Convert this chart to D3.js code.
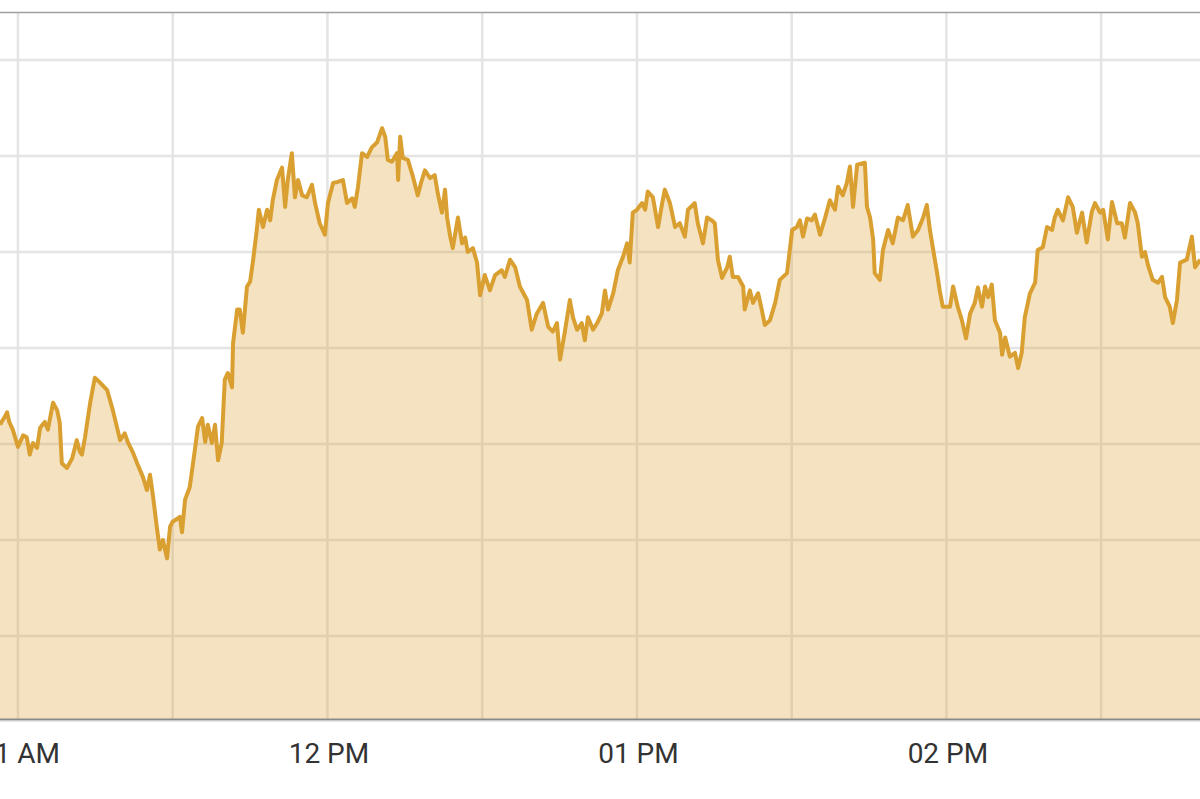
<!DOCTYPE html>
<html>
<head>
<meta charset="utf-8">
<script src="https://cdn.jsdelivr.net/npm/d3@7"></script>
<style>
  html, body { margin: 0; padding: 0; background: #fff; overflow: hidden; }
  svg { display: block; }
</style>
</head>
<body>
<div id="chart"></div>
<script>
// minutes after 11:00 for each reading, and the price at that moment
const minutes = [
  -3.5, -2.7, -2.1, -1.7, -1.0, 0.0, 1.0, 1.7, 2.3, 2.9, 3.7, 4.3, 5.2, 5.8, 6.8, 7.6, 8.1, 8.5, 9.5, 10.5,
  11.4, 12.0, 12.4, 13.0, 14.0, 14.9, 15.9, 17.3, 18.4, 19.8, 20.7, 21.3, 22.3, 23.1, 24.2, 25.0, 25.6, 26.2, 26.9, 27.5,
  28.1, 28.9, 29.5, 30.0, 31.4, 31.8, 32.4, 33.3, 34.3, 34.9, 35.7, 36.3, 36.8, 37.6, 38.2, 38.8, 39.5, 40.1, 40.7, 41.5,
  41.7, 42.5, 43.0, 43.6, 44.4, 45.0, 45.6, 46.3, 46.7, 47.5, 48.3, 48.9, 49.4, 50.2, 51.2, 51.8, 52.3, 53.1, 53.7, 54.3,
  55.1, 56.0, 57.0, 57.6, 58.5, 59.5, 60.1, 61.1, 62.0, 63.0, 63.8, 64.8, 65.3, 65.9, 66.7, 67.7, 68.6, 69.6, 70.6, 71.2,
  71.7, 72.5, 73.5, 73.7, 74.1, 74.6, 75.6, 76.6, 77.5, 78.3, 78.9, 79.9, 80.8, 81.4, 82.2, 82.8, 83.2, 83.8, 84.3, 85.3,
  86.1, 86.7, 87.2, 88.2, 89.0, 89.6, 90.5, 91.5, 92.5, 93.8, 94.4, 95.4, 96.4, 97.3, 98.7, 99.6, 100.6, 101.8, 102.8, 103.7,
  104.5, 105.1, 106.0, 107.0, 107.6, 108.4, 109.3, 109.9, 110.5, 111.5, 112.3, 113.2, 113.8, 114.4, 115.4, 116.3, 117.3, 118.1, 118.6, 119.2,
  120.0, 121.0, 121.6, 122.1, 123.1, 124.1, 124.9, 125.4, 126.4, 127.4, 128.3, 129.3, 129.9, 131.2, 131.8, 132.8, 133.6, 134.5, 135.1, 135.7,
  136.5, 137.5, 138.0, 138.6, 139.6, 140.6, 140.9, 141.9, 142.5, 143.5, 144.2, 144.8, 145.8, 146.8, 147.7, 149.1, 150.1, 151.0, 151.6, 152.2,
  153.0, 153.9, 154.5, 155.5, 156.5, 157.4, 158.4, 159.0, 159.9, 160.7, 161.3, 161.9, 162.7, 164.2, 164.6, 165.2, 165.8, 166.1, 167.1, 167.7,
  168.7, 169.6, 170.6, 171.6, 172.5, 173.5, 174.5, 175.5, 176.2, 176.8, 178.2, 178.7, 179.3, 180.7, 181.3, 182.2, 183.0, 183.8, 184.6, 185.5,
  186.1, 186.9, 187.5, 188.1, 188.8, 189.4, 190.4, 190.8, 191.4, 192.3, 193.3, 193.9, 194.6, 195.2, 196.2, 197.2, 197.7, 198.7, 199.5, 200.5,
  201.0, 201.6, 202.6, 203.6, 204.5, 205.3, 206.3, 207.2, 208.2, 208.8, 209.8, 210.4, 211.3, 212.1, 213.1, 214.0, 214.6, 215.6, 216.6, 217.1,
  217.9, 218.5, 219.1, 220.0, 221.0, 221.8, 222.4, 223.3, 223.9, 224.7, 225.3, 226.6, 227.6, 228.2, 229.2
];

const prices = [
  1286.20, 1286.27, 1286.33, 1286.23, 1286.15, 1285.97, 1286.09, 1286.07, 1285.89, 1286.01, 1285.96, 1286.17, 1286.23, 1286.15, 1286.43, 1286.35, 1286.22, 1285.80, 1285.75, 1285.85,
  1286.04, 1285.92, 1285.89, 1286.07, 1286.43, 1286.69, 1286.64, 1286.56, 1286.35, 1286.04, 1286.11, 1286.02, 1285.91, 1285.80, 1285.66, 1285.52, 1285.68, 1285.45, 1285.14, 1284.90,
  1285.00, 1284.81, 1285.14, 1285.19, 1285.24, 1285.08, 1285.42, 1285.55, 1285.94, 1286.18, 1286.27, 1286.02, 1286.20, 1286.01, 1286.20, 1285.83, 1286.01, 1286.67, 1286.74, 1286.59,
  1287.05, 1287.40, 1287.40, 1287.16, 1287.64, 1287.69, 1287.92, 1288.23, 1288.44, 1288.26, 1288.44, 1288.33, 1288.54, 1288.75, 1288.88, 1288.47, 1288.75, 1289.03, 1288.57, 1288.75,
  1288.59, 1288.57, 1288.70, 1288.51, 1288.30, 1288.18, 1288.51, 1288.72, 1288.73, 1288.75, 1288.51, 1288.56, 1288.47, 1288.67, 1289.03, 1288.99, 1289.09, 1289.14, 1289.29, 1289.20,
  1288.96, 1288.94, 1289.03, 1288.75, 1289.20, 1288.98, 1288.96, 1288.78, 1288.59, 1288.75, 1288.85, 1288.77, 1288.80, 1288.61, 1288.41, 1288.65, 1288.36, 1288.16, 1288.04, 1288.36,
  1288.09, 1288.15, 1288.00, 1288.04, 1287.89, 1287.55, 1287.76, 1287.60, 1287.76, 1287.81, 1287.74, 1287.92, 1287.84, 1287.64, 1287.50, 1287.19, 1287.36, 1287.47, 1287.22, 1287.17,
  1287.26, 1286.88, 1287.16, 1287.50, 1287.32, 1287.19, 1287.26, 1287.08, 1287.32, 1287.19, 1287.26, 1287.36, 1287.60, 1287.40, 1287.57, 1287.81, 1287.95, 1288.09, 1287.89, 1288.41,
  1288.44, 1288.51, 1288.44, 1288.63, 1288.57, 1288.26, 1288.51, 1288.65, 1288.51, 1288.26, 1288.30, 1288.16, 1288.44, 1288.51, 1288.30, 1288.09, 1288.36, 1288.33, 1288.30, 1287.92,
  1287.73, 1287.84, 1287.95, 1287.74, 1287.74, 1287.64, 1287.40, 1287.60, 1287.47, 1287.57, 1287.40, 1287.24, 1287.29, 1287.47, 1287.71, 1287.78, 1288.23, 1288.26, 1288.33, 1288.16,
  1288.35, 1288.33, 1288.39, 1288.18, 1288.36, 1288.54, 1288.44, 1288.68, 1288.59, 1288.72, 1288.89, 1288.47, 1288.91, 1288.93, 1288.47, 1288.36, 1288.13, 1287.78, 1287.71, 1288.02,
  1288.23, 1288.09, 1288.36, 1288.33, 1288.49, 1288.16, 1288.23, 1288.36, 1288.49, 1288.23, 1287.78, 1287.60, 1287.43, 1287.43, 1287.64, 1287.43, 1287.29, 1287.10, 1287.36, 1287.47,
  1287.63, 1287.43, 1287.64, 1287.53, 1287.66, 1287.29, 1287.16, 1286.93, 1287.11, 1286.91, 1286.95, 1286.79, 1286.95, 1287.32, 1287.57, 1287.68, 1288.02, 1288.05, 1288.26, 1288.23,
  1288.36, 1288.44, 1288.33, 1288.57, 1288.47, 1288.20, 1288.41, 1288.10, 1288.42, 1288.51, 1288.41, 1288.44, 1288.13, 1288.52, 1288.30, 1288.30, 1288.15, 1288.51, 1288.41, 1288.30,
  1287.95, 1288.00, 1287.86, 1287.71, 1287.68, 1287.74, 1287.53, 1287.43, 1287.26, 1287.50, 1287.89, 1287.92, 1288.16, 1287.84, 1287.92
];

const priceTicks = [1284, 1285, 1286, 1287, 1288, 1289, 1290];

const width = 1200;
const height = 799;
const plotTop = 13;
const plotBottom = 719;

const day = new Date(2019, 0, 15, 11, 0, 0);
const toTime = m => new Date(day.getTime() + m * 60000);

const data = minutes.map((m, i) => ({ t: toTime(m), v: prices[i] }));

let svg = d3.select("#chart").append("svg")
    .attr("width", width)
    .attr("height", height);

// visible window runs from 10:56:31 to 14:49:10
let x = d3.scaleTime()
    .domain([new Date(2019, 0, 15, 10, 56, 31), new Date(2019, 0, 15, 14, 49, 10)])
    .range([0, width]);

let y = d3.scaleLinear()
    .domain([1283.135, 1290.49])
    .range([plotBottom, plotTop]);

// grid
svg.append("g")
    .selectAll("line")
    .data(x.ticks(d3.timeMinute.every(30)))
    .join("line")
    .attr("x1", d => x(d))
    .attr("x2", d => x(d))
    .attr("y1", plotTop)
    .attr("y2", plotBottom)
    .attr("stroke", "#e4e4e4")
    .attr("stroke-width", 2.5);

svg.append("g")
    .selectAll("line")
    .data(priceTicks)
    .join("line")
    .attr("x1", 0)
    .attr("x2", width)
    .attr("y1", d => y(d))
    .attr("y2", d => y(d))
    .attr("stroke", "#e4e4e4")
    .attr("stroke-width", 2.5);

let area = d3.area()
    .x(d => x(d.t))
    .y0(plotBottom)
    .y1(d => y(d.v));

let line = d3.line()
    .x(d => x(d.t))
    .y(d => y(d.v));

svg.append("path")
    .datum(data)
    .attr("d", area)
    .attr("fill", "#d9a031")
    .attr("fill-opacity", 0.3);

svg.append("path")
    .datum(data)
    .attr("d", line)
    .attr("fill", "none")
    .attr("stroke", "#d9a031")
    .attr("stroke-width", 4)
    .attr("stroke-linejoin", "round");

// frame
svg.append("line")
    .attr("x1", 0).attr("x2", width)
    .attr("y1", plotTop - 0.5).attr("y2", plotTop - 0.5)
    .attr("stroke", "#a0a0a0")
    .attr("stroke-width", 1.5);

svg.append("line")
    .attr("x1", 0).attr("x2", width)
    .attr("y1", plotBottom + 0.5).attr("y2", plotBottom + 0.5)
    .attr("stroke", "#8a8a8a")
    .attr("stroke-width", 2);

svg.append("line")
    .attr("x1", 0).attr("x2", width)
    .attr("y1", plotBottom + 2).attr("y2", plotBottom + 2)
    .attr("stroke", "#cfcfcf")
    .attr("stroke-width", 1.2);

// hour labels
let xAxis = d3.axisBottom(x)
    .ticks(d3.timeHour.every(1))
    .tickFormat(d3.timeFormat("%I %p"))
    .tickSize(0)
    .tickPadding(24);

let axisG = svg.append("g")
    .attr("transform", "translate(0," + plotBottom + ")")
    .call(xAxis);

axisG.select(".domain").remove();
axisG.selectAll("text")
    .attr("dx", "1")
    .style("font-family", "Roboto, 'Noto Sans', sans-serif")
    .style("font-size", "28px")
    .style("fill", "#333");
</script>
</body>
</html>
